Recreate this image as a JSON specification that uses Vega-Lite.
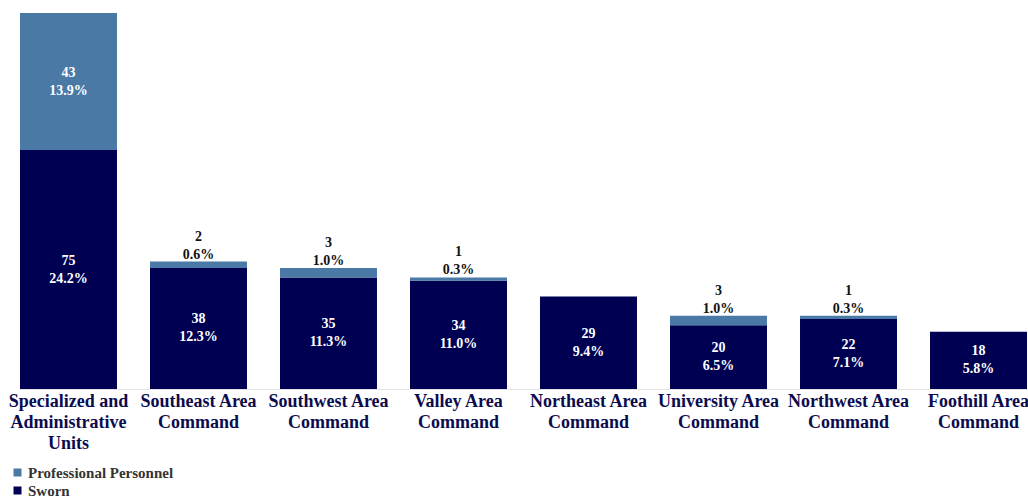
{
  "$schema": "https://vega.github.io/schema/vega-lite/v6.json",
  "autosize": {"type": "none"},
  "width": 1007,
  "height": 376,
  "padding": {"left": 20, "top": 13, "right": 1, "bottom": 109},
  "background": "white",
  "config": {"view": {"stroke": null}, "font": "Liberation Serif"},
  "data": {
    "values": [
      {"unit": "Specialized and Administrative Units", "type": "Sworn", "count": 75, "pct": "24.2%"},
      {"unit": "Specialized and Administrative Units", "type": "Professional Personnel", "count": 43, "pct": "13.9%"},
      {"unit": "Southeast Area Command", "type": "Sworn", "count": 38, "pct": "12.3%"},
      {"unit": "Southeast Area Command", "type": "Professional Personnel", "count": 2, "pct": "0.6%"},
      {"unit": "Southwest Area Command", "type": "Sworn", "count": 35, "pct": "11.3%"},
      {"unit": "Southwest Area Command", "type": "Professional Personnel", "count": 3, "pct": "1.0%"},
      {"unit": "Valley Area Command", "type": "Sworn", "count": 34, "pct": "11.0%"},
      {"unit": "Valley Area Command", "type": "Professional Personnel", "count": 1, "pct": "0.3%"},
      {"unit": "Northeast Area Command", "type": "Sworn", "count": 29, "pct": "9.4%"},
      {"unit": "University Area Command", "type": "Sworn", "count": 20, "pct": "6.5%"},
      {"unit": "University Area Command", "type": "Professional Personnel", "count": 3, "pct": "1.0%"},
      {"unit": "Northwest Area Command", "type": "Sworn", "count": 22, "pct": "7.1%"},
      {"unit": "Northwest Area Command", "type": "Professional Personnel", "count": 1, "pct": "0.3%"},
      {"unit": "Foothill Area Command", "type": "Sworn", "count": 18, "pct": "5.8%"}
    ]
  },
  "transform": [
    {"stack": "count", "groupby": ["unit"], "sort": [{"field": "type", "order": "descending"}], "as": ["y0", "y1"]},
    {"calculate": "datum.count < 5", "as": "small"},
    {"calculate": "datum.count < 5 ? datum.y1 : (datum.y0 + datum.y1) / 2", "as": "labelPos"},
    {"calculate": "[toString(datum.count), datum.pct]", "as": "labelText"}
  ],
  "encoding": {
    "x": {
      "field": "unit",
      "type": "nominal",
      "sort": null,
      "scale": {"paddingInner": 0.254, "paddingOuter": 0},
      "axis": {
        "title": null,
        "labelAngle": 0,
        "labelOverlap": false,
        "labelBound": false,
        "labelFont": "Liberation Serif",
        "labelFontWeight": "bold",
        "labelFontSize": 18,
        "labelLineHeight": 21,
        "labelColor": "#0b0b4f",
        "labelPadding": 3,
        "labelLimit": 300,
        "ticks": false,
        "domainColor": "#e3e3e3",
        "domainWidth": 1,
        "labelExpr": "datum.value == 'Specialized and Administrative Units' ? ['Specialized and', 'Administrative', 'Units'] : [replace(datum.value, ' Command', ''), 'Command']"
      }
    }
  },
  "layer": [
    {
      "mark": {"type": "bar"},
      "encoding": {
        "y": {"field": "y0", "type": "quantitative", "scale": {"domain": [0, 118], "nice": false}, "axis": null},
        "y2": {"field": "y1"},
        "color": {
          "field": "type",
          "type": "nominal",
          "scale": {"domain": ["Professional Personnel", "Sworn"], "range": ["#4a79a6", "#000052"]},
          "legend": {
            "title": null,
            "orient": "none",
            "legendX": -10,
            "legendY": 452,
            "symbolType": "square",
            "symbolSize": 64,
            "symbolStrokeWidth": 0,
            "labelFont": "Liberation Serif",
            "labelFontWeight": "bold",
            "labelFontSize": 15,
            "labelColor": "#333333",
            "labelOffset": 3,
            "rowPadding": 2,
            "labelLimit": 300
          }
        }
      }
    },
    {
      "transform": [{"filter": "!datum.small"}],
      "mark": {"type": "text", "color": "white", "font": "Liberation Serif", "fontWeight": "bold", "fontSize": 14, "lineHeight": 18, "baseline": "middle", "align": "center", "dy": -9},
      "encoding": {
        "y": {"field": "labelPos", "type": "quantitative", "scale": {"domain": [0, 118], "nice": false}},
        "text": {"field": "labelText"}
      }
    },
    {
      "transform": [{"filter": "datum.small"}],
      "mark": {"type": "text", "color": "#111111", "font": "Liberation Serif", "fontWeight": "bold", "fontSize": 14, "lineHeight": 18, "baseline": "bottom", "align": "center", "dy": -18},
      "encoding": {
        "y": {"field": "labelPos", "type": "quantitative", "scale": {"domain": [0, 118], "nice": false}},
        "text": {"field": "labelText"}
      }
    }
  ]
}
